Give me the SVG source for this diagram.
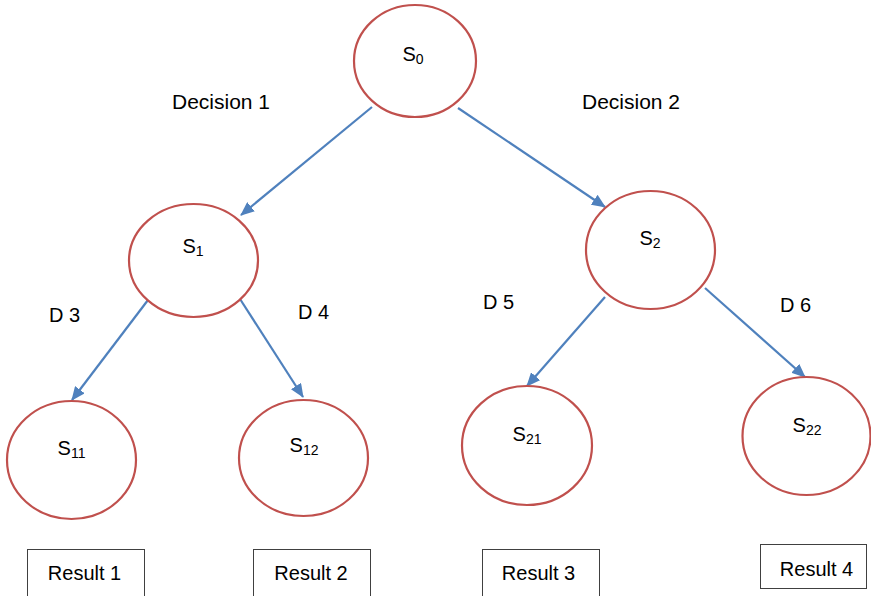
<svg xmlns="http://www.w3.org/2000/svg" width="871" height="596" viewBox="0 0 871 596">
  <style>
    .state { fill: #FFFFFF; stroke: #C0504D; stroke-width: 2.2; }
    .lbl { font-family: "Liberation Sans", Arial, sans-serif; font-size: 20px; fill: #000000; }
    .sub { font-size: 14px; }
    .edge { stroke: #4F81BD; stroke-width: 2.2; fill: none; marker-end: url(#arrow); }
    .box { fill: #FFFFFF; stroke: #404040; stroke-width: 1; }
  </style>
  <defs>
    <marker id="arrow" markerWidth="14" markerHeight="12" refX="13" refY="6" orient="auto" markerUnits="userSpaceOnUse" viewBox="0 0 14 12">
      <path d="M0,0 L14,6 L0,12 Z" fill="#4F81BD"/>
    </marker>
  </defs>

  <rect width="871" height="596" fill="#FFFFFF"/>

  <!-- connectors -->
  <g id="connectors">
    <line class="edge" x1="372" y1="107" x2="241" y2="215"/>
    <line class="edge" x1="458" y1="108" x2="605" y2="207"/>
    <line class="edge" x1="148" y1="300" x2="72" y2="400"/>
    <line class="edge" x1="240" y1="299" x2="303" y2="397"/>
    <line class="edge" x1="605" y1="297" x2="527" y2="386"/>
    <line class="edge" x1="705" y1="288" x2="805" y2="377"/>
  </g>

  <!-- edge labels -->
  <g id="edge-labels" class="lbl">
    <text x="172" y="109" textLength="98" lengthAdjust="spacingAndGlyphs">Decision 1</text>
    <text x="582" y="109" textLength="98" lengthAdjust="spacingAndGlyphs">Decision 2</text>
    <text x="49" y="322">D 3</text>
    <text x="298" y="319">D 4</text>
    <text x="483" y="309">D 5</text>
    <text x="780" y="312">D 6</text>
  </g>

  <!-- states -->
  <g id="s0">
    <ellipse class="state" cx="415" cy="61" rx="61" ry="56"/>
    <text class="lbl" x="413" y="61" text-anchor="middle">S<tspan class="sub" dy="3">0</tspan></text>
  </g>
  <g id="s1">
    <ellipse class="state" cx="193.5" cy="260.5" rx="64.5" ry="56.5"/>
    <text class="lbl" x="193" y="253" text-anchor="middle">S<tspan class="sub" dy="3">1</tspan></text>
  </g>
  <g id="s2">
    <ellipse class="state" cx="650.5" cy="250" rx="64.5" ry="59"/>
    <text class="lbl" x="650" y="245" text-anchor="middle">S<tspan class="sub" dy="3">2</tspan></text>
  </g>
  <g id="s11">
    <ellipse class="state" cx="71.5" cy="460" rx="64.5" ry="59"/>
    <text class="lbl" x="71.5" y="455" text-anchor="middle">S<tspan class="sub" dy="3">11</tspan></text>
  </g>
  <g id="s12">
    <ellipse class="state" cx="303.5" cy="458" rx="64.5" ry="58"/>
    <text class="lbl" x="304" y="452" text-anchor="middle">S<tspan class="sub" dy="3">12</tspan></text>
  </g>
  <g id="s21">
    <ellipse class="state" cx="527" cy="445.5" rx="65" ry="59.5"/>
    <text class="lbl" x="527" y="441" text-anchor="middle">S<tspan class="sub" dy="3">21</tspan></text>
  </g>
  <g id="s22">
    <ellipse class="state" cx="806.5" cy="436" rx="64" ry="59"/>
    <text class="lbl" x="807" y="432" text-anchor="middle">S<tspan class="sub" dy="3">22</tspan></text>
  </g>

  <!-- result boxes -->
  <g id="result1">
    <rect class="box" x="27.5" y="549.5" width="117" height="50"/>
    <text class="lbl" x="84.5" y="580" text-anchor="middle">Result 1</text>
  </g>
  <g id="result2">
    <rect class="box" x="253.5" y="549.5" width="117" height="50"/>
    <text class="lbl" x="311" y="580" text-anchor="middle">Result 2</text>
  </g>
  <g id="result3">
    <rect class="box" x="482.5" y="549.5" width="117" height="50"/>
    <text class="lbl" x="538.5" y="580" text-anchor="middle">Result 3</text>
  </g>
  <g id="result4">
    <rect class="box" x="760.5" y="544.5" width="106" height="44"/>
    <text class="lbl" x="816.5" y="576" text-anchor="middle">Result 4</text>
  </g>
</svg>
